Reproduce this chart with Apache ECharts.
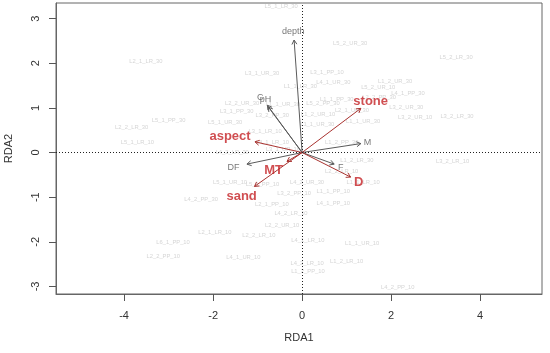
<!DOCTYPE html>
<html>
<head>
<meta charset="utf-8">
<script src="https://cdn.jsdelivr.net/npm/echarts@6/dist/echarts.min.js"></script>
<style>html,body{margin:0;padding:0;background:#fff}#c{width:550px;height:353px}</style>
</head>
<body>
<div id="c"></div>
<script>
// Site scores (RDA1, RDA2)
const siteNames = ['L5_1_LR_30','L2_1_LR_30','L3_1_UR_30','L1_1_LR_30','L4_1_UR_30','L3_1_PP_10','L5_2_UR_30','L5_2_LR_30','L1_2_UR_30','L5_2_UR_10',
  'L4_1_PP_30','L2_2_PP_30','L1_1_PP_30','L5_2_PP_30','L3_2_UR_30','L2_1_UR_30','L3_2_UR_10','L3_2_LR_30','L1_2_UR_10','L1_1_UR_30',
  'L1_1_UR_30','L1_2_PP_30','L1_2_LR_30','L3_2_LR_10','L2_2_LR_10','L1_1_LR_10','L4_2_UR_30','L1_1_PP_10','L3_2_PP_10','L4_1_PP_10',
  'L4_2_LR_10','L2_2_UR_10','L2_1_PP_10','L5_1_UR_10','L5_1_PP_10','L4_2_PP_30','L2_1_LR_10','L2_2_LR_10','L4_1_LR_10','L4_2_LR_10',
  'L6_1_PP_10','L2_2_PP_10','L4_1_UR_10','L1_2_PP_10','L1_1_UR_10','L1_2_LR_10','L4_2_PP_10','L3_1_PP_30','L2_2_UR_30','L5_1_PP_30',
  'L2_2_LR_30','L5_1_UR_30','L5_1_LR_10','L3_2_PP_30','L1_1_UR_30','L3_1_LR_10','L4_1_LR_10','L4_2_LR_30','L3_1_UR_10'];
const siteX = [-0.47,-3.51,-0.90,-0.04,0.70,0.56,1.08,3.46,2.09,1.71,
  2.38,1.73,0.78,0.47,2.34,1.12,2.54,3.48,0.36,0.34,
  1.37,0.89,1.23,3.38,0.89,1.37,0.11,0.70,-0.18,0.70,
  -0.25,-0.45,-0.68,-1.62,-0.89,-2.27,-1.96,-0.97,0.13,0.11,
  -2.90,-3.12,-1.32,0.13,1.35,1.00,2.15,-1.47,-1.35,-3.00,
  -3.83,-1.73,-3.70,-0.67,-0.43,-0.83,-0.67,-1.57,-0.43];
const siteY = [3.27,2.05,1.78,1.49,1.56,1.80,2.45,2.13,1.59,1.47,
  1.32,1.24,1.19,1.09,1.02,0.94,0.79,0.82,0.85,0.64,
  0.70,0.22,-0.17,-0.21,-0.43,-0.66,-0.67,-0.86,-0.92,-1.15,
  -1.36,-1.64,-1.17,-0.66,-0.72,-1.04,-1.79,-1.86,-1.97,-2.48,
  -2.02,-2.33,-2.36,-2.67,-2.04,-2.44,-3.03,0.92,1.11,0.72,
  0.56,0.67,0.22,0.84,1.08,0.48,0.23,0.01,0.06];

// Continuous environmental vectors (grey)
const envNames = ['depth','C','pH','DF','M','F'];
const envX = [-0.18,-0.78,-0.76,-1.24,1.32,0.72];
const envY = [2.52,1.06,1.02,-0.26,0.20,-0.26];
const envLabX = [-0.20,-0.94,-0.82,-1.54,1.47,0.87];
const envLabY = [2.71,1.24,1.18,-0.34,0.22,-0.34];

// Highlighted vectors (red)
const redNames = ['stone','aspect','sand','MT','D'];
const redX = [1.32,-1.06,-1.07,-0.34,1.09];
const redY = [0.99,0.24,-0.76,-0.20,-0.55];
const redLabX = [1.54,-1.62,-1.36,-0.64,1.27];
const redLabY = [1.15,0.35,-0.98,-0.41,-0.67];

const xTicks = [-4,-2,0,2,4];
const yTicks = [-3,-2,-1,0,1,2,3];

const FONT = 'Liberation Sans, Arial, sans-serif';

function arrowRender(color){
  return function(params, api){
    const o = api.coord([0,0]);
    const t = api.coord([api.value(0), api.value(1)]);
    const ang = Math.atan2(t[1]-o[1], t[0]-o[0]);
    const L = 5, a = Math.PI/6;
    const h1 = [t[0]-L*Math.cos(ang-a), t[1]-L*Math.sin(ang-a)];
    const h2 = [t[0]-L*Math.cos(ang+a), t[1]-L*Math.sin(ang+a)];
    return {type:'group', children:[
      {type:'line', shape:{x1:o[0],y1:o[1],x2:t[0],y2:t[1]}, style:{stroke:color,lineWidth:1}},
      {type:'polyline', shape:{points:[h1,t,h2]}, style:{stroke:color,lineWidth:1,fill:null}}
    ]};
  };
}

function labelSeries(names, xs, ys, style, z){
  return {
    type:'scatter', symbolSize:1, itemStyle:{color:'rgba(0,0,0,0)'}, silent:true, z:z,
    data: names.map((n,i)=>({name:n, value:[xs[i], ys[i]]})),
    label:{show:true, position:'inside', formatter:p=>p.name, fontFamily:FONT, ...style},
    labelLayout:{hideOverlap:false}
  };
}

const chart = echarts.init(document.getElementById('c'), null, {renderer:'canvas'});
chart.setOption({
  animation:false,
  grid:{left:56, right:8, top:3, bottom:59, outerBoundsMode:'none', containLabel:false,
    show:true, borderColor:'#666', borderWidth:1, backgroundColor:'transparent'},
  xAxis:{
    type:'value', min:-5.53, max:5.39,
    name:'RDA1', nameLocation:'middle', nameGap:38,
    nameTextStyle:{fontFamily:FONT, fontSize:11, color:'#333'},
    axisLine:{show:true, onZero:false, lineStyle:{color:'#666'}},
    axisTick:{show:true, inside:false, length:7, customValues:xTicks, lineStyle:{color:'#555'}},
    axisLabel:{customValues:xTicks, margin:16, fontFamily:FONT, fontSize:11, color:'#333'},
    splitLine:{show:false}
  },
  yAxis:{
    type:'value', min:-3.17, max:3.35,
    name:'RDA2', nameLocation:'middle', nameGap:42,
    nameTextStyle:{fontFamily:FONT, fontSize:11, color:'#333'},
    axisLine:{show:true, onZero:false, lineStyle:{color:'#666'}},
    axisTick:{show:true, inside:false, length:7, customValues:yTicks, lineStyle:{color:'#555'}},
    axisLabel:{customValues:yTicks, rotate:90, margin:15, fontFamily:FONT, fontSize:11, color:'#333'},
    splitLine:{show:false}
  },
  series:[
    {
      type:'line', data:[], silent:true,
      markLine:{silent:true, symbol:['none','none'], label:{show:false},
        lineStyle:{type:[1,2], color:'#222', width:1},
        data:[{xAxis:0},{yAxis:0}]}
    },
    labelSeries(siteNames, siteX, siteY, {fontSize:5.8, color:'#cacaca'}, 2),
    {type:'custom', renderItem:arrowRender('#5a5a5a'), data:envX.map((x,i)=>[x, envY[i]]), z:3, silent:true},
    {type:'custom', renderItem:arrowRender('#a8322f'), data:redX.map((x,i)=>[x, redY[i]]), z:3, silent:true},
    labelSeries(envNames, envLabX, envLabY, {fontSize:9, color:'#555'}, 4),
    labelSeries(redNames, redLabX, redLabY, {fontSize:13, fontWeight:'bold', color:'#c42226'}, 4)
  ]
});
</script>
</body>
</html>
